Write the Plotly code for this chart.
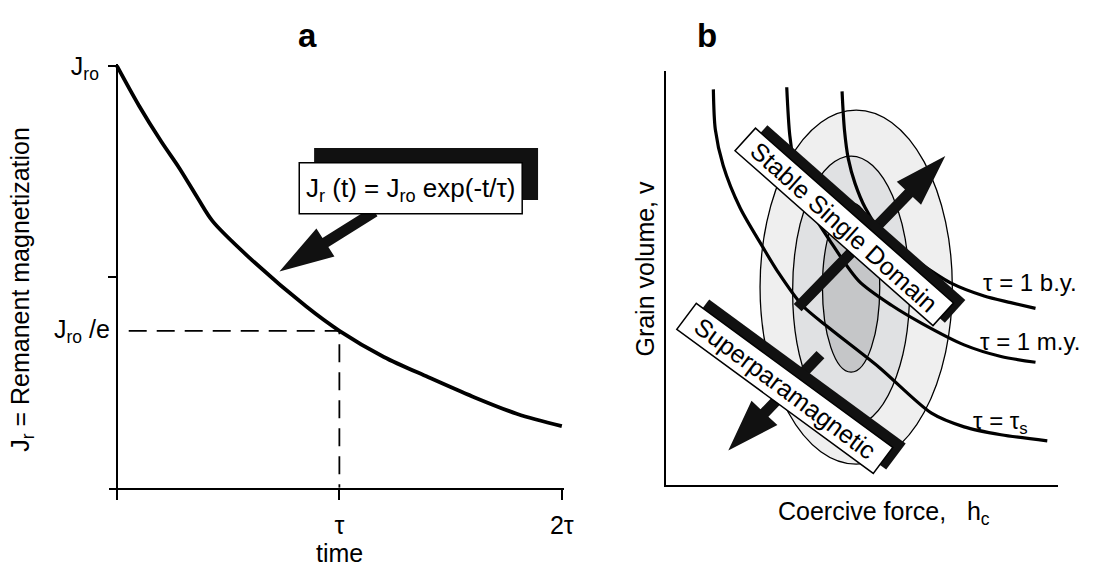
import math
import plotly.graph_objects as go

W, H = 1098, 570
FONT = "Liberation Sans, Arial, Helvetica, sans-serif"

# ---------------- panel a : data (time in units of tau, J in units of Jro)
time_tau = [0, 0.1, 0.2, 0.28, 0.365, 0.43, 0.59, 0.85, 1.0, 1.2, 1.4, 1.6, 1.8, 2.0]
jr_ratio = [1.0, 0.905, 0.82, 0.758, 0.685, 0.632, 0.548, 0.43, 0.372, 0.31, 0.262, 0.216, 0.175, 0.146]
time_ticks = [0, 1, 2]
time_tick_text = ["", "τ", "2τ"]
j_ticks = [1.0, 0.5]
j_tick_text = ["J<sub>ro</sub>", ""]
j_over_e = 0.372
dash_start = 0.053

# ---------------- panel b : relaxation-time curves (coercive force h, grain volume v; arbitrary units 0-10)
ts_h = [1.21, 1.26, 1.46, 1.89, 2.47, 2.85, 3.48, 4.17, 5.43, 6.77, 7.60, 8.54, 9.72]
ts_v = [9.55, 8.58, 7.71, 6.69, 5.74, 5.15, 4.33, 3.78, 2.84, 1.73, 1.40, 1.21, 1.06]
my_h = [3.08, 3.16, 3.31, 3.66, 4.17, 4.92, 5.76, 6.52, 7.60, 8.54, 9.42]
my_v = [9.60, 8.42, 7.57, 6.69, 5.91, 4.92, 4.33, 3.90, 3.38, 3.10, 2.96]
by_h = [4.49, 4.55, 4.65, 4.82, 5.08, 5.58, 6.34, 7.27, 8.11, 8.79, 9.42]
by_v = [9.50, 8.58, 7.87, 7.28, 6.69, 5.98, 5.44, 4.87, 4.56, 4.40, 4.26]
curve_labels = ["τ = 1 b.y.", "τ = 1 m.y.", "τ = τ<sub>s</sub>"]
label_h = [8.03, 7.95, 7.78]
label_v = [4.88, 3.47, 1.50]
# grain distribution ellipses: h0, h1, v0, v1, fill
ell_h0 = [2.40, 3.23, 3.99]
ell_h1 = [7.30, 6.21, 5.45]
ell_v0 = [0.50, 1.42, 2.72]
ell_v1 = [9.05, 7.94, 6.81]
ell_fill = ["#efefef", "#e0e1e3", "#c5c6c8"]


def fx(px):
    return px / W


def fy(py):
    return 1 - py / H


def path_of(pts):
    return "M " + " L ".join(f"{fx(x):.5f},{fy(y):.5f}" for x, y in pts) + " Z"


def arrow_pts(tail, tip, sw, hl, hw):
    dx, dy = tip[0] - tail[0], tip[1] - tail[1]
    L = math.hypot(dx, dy)
    ux, uy = dx / L, dy / L
    nx, ny = -uy, ux
    bx, by = tip[0] - ux * hl, tip[1] - uy * hl
    return [
        (tail[0] + nx * sw / 2, tail[1] + ny * sw / 2),
        (bx + nx * sw / 2, by + ny * sw / 2),
        (bx + nx * hw / 2, by + ny * hw / 2),
        tip,
        (bx - nx * hw / 2, by - ny * hw / 2),
        (bx - nx * sw / 2, by - ny * sw / 2),
        (tail[0] - nx * sw / 2, tail[1] - ny * sw / 2),
    ]


def rect_pts(c, length, width, ang):
    a = math.radians(ang)
    ux, uy = math.cos(a), math.sin(a)
    nx, ny = -uy, ux
    pts = []
    for s, t in [(-1, -1), (1, -1), (1, 1), (-1, 1)]:
        pts.append((c[0] + s * ux * length / 2 + t * nx * width / 2,
                    c[1] + s * uy * length / 2 + t * ny * width / 2))
    return pts


fig = go.Figure()

# panel a
fig.add_trace(go.Scatter(x=time_tau, y=jr_ratio, mode="lines", xaxis="x", yaxis="y",
                         line=dict(color="black", width=3.8, shape="spline", smoothing=0.9),
                         showlegend=False, hoverinfo="skip"))
fig.add_trace(go.Scatter(x=[dash_start, 1, 1], y=[j_over_e, j_over_e, 0], mode="lines",
                         xaxis="x", yaxis="y",
                         line=dict(color="black", width=1.8, dash="18px,10px"),
                         showlegend=False, hoverinfo="skip"))

# panel b curves
for hh, vv in [(ts_h, ts_v), (my_h, my_v), (by_h, by_v)]:
    fig.add_trace(go.Scatter(x=hh, y=vv, mode="lines", xaxis="x2", yaxis="y2",
                             line=dict(color="black", width=3.2, shape="spline", smoothing=0.8),
                             showlegend=False, hoverinfo="skip"))

shapes = []
for h0, h1, v0, v1, fc in zip(ell_h0, ell_h1, ell_v0, ell_v1, ell_fill):
    shapes.append(dict(type="circle", xref="x2", yref="y2", x0=h0, x1=h1, y0=v0, y1=v1,
                       fillcolor=fc, line=dict(color="black", width=1.3), layer="below"))

BLACK = "#111111"


def add_poly(pts, fill, lw=0):
    shapes.append(dict(type="path", xref="paper", yref="paper", path=path_of(pts),
                       fillcolor=fill, line=dict(color="black", width=lw), layer="above"))


# superparamagnetic arrow (behind its box)
add_poly(arrow_pts((828, 350), (735, 448), 11, 53, 36), BLACK)
# stable-single-domain arrow (behind its box)
add_poly(arrow_pts((805, 302), (954, 147), 11, 53, 34), BLACK)
# superparamagnetic box + shadow
sp_c, sp_len, sp_w, sp_ang = (792, 384.5), 247, 33, 36.6
add_poly(rect_pts((sp_c[0] + 13, sp_c[1] - 4), sp_len, sp_w, sp_ang), BLACK)
add_poly(rect_pts(sp_c, sp_len, sp_w, sp_ang), "white", 1.5)
# stable single domain box + shadow
sd_c, sd_len, sd_w, sd_ang = (852, 219.5), 268, 31, 41.8
add_poly(rect_pts((sd_c[0] + 12, sd_c[1] - 3), sd_len, sd_w, sd_ang), BLACK)
add_poly(rect_pts(sd_c, sd_len, sd_w, sd_ang), "white", 1.5)
# equation arrow, shadow, box
add_poly(arrow_pts((378, 204), (282, 265), 11, 55, 34), BLACK)
shapes.append(dict(type="rect", xref="paper", yref="paper", x0=fx(317), x1=fx(543), y0=fy(192), y1=fy(139),
                   fillcolor=BLACK, line=dict(width=0), layer="above"))
shapes.append(dict(type="rect", xref="paper", yref="paper", x0=fx(302), x1=fx(527), y0=fy(206), y1=fy(154),
                   fillcolor="white", line=dict(color="black", width=1.5), layer="above"))

ann = []


def txt(x, y, s, size=25, angle=0, xanchor="center", xref="paper", yref="paper", **kw):
    d = dict(x=x, y=y, xref=xref, yref=yref, text=s, showarrow=False, textangle=angle,
             xanchor=xanchor, yanchor="middle", font=dict(family=FONT, size=size, color="black"))
    d.update(kw)
    ann.append(d)


txt(fx(310), fy(24), "<b>a</b>", size=33)
txt(fx(714), fy(24), "<b>b</b>", size=33)
txt(fx(414.5), fy(181), "J<sub>r</sub> (t) = J<sub>ro</sub> exp(-t/τ)", size=26)
txt(0, j_over_e, "J<sub>ro</sub> /e", xref="x", yref="y", xanchor="right", xshift=-5)
txt(fx(343), fy(553), "time")
txt(fx(22), fy(283), "J<sub>r</sub> = Remanent magnetization", angle=-90)
txt(fx(651), fy(262), "Grain volume, v", angle=-90)
txt(fx(892), fy(512), "Coercive force,\u00a0\u00a0 h<sub>c</sub>")
txt(fx(sd_c[0]), fy(sd_c[1]), "Stable Single Domain", size=25, angle=sd_ang)
txt(fx(sp_c[0]), fy(sp_c[1]), "Superparamagnetic", size=25, angle=sp_ang)
for s, hx, vy in zip(curve_labels, label_h, label_v):
    txt(hx, vy, s, size=24, xanchor="left", xref="x2", yref="y2")

axis_common = dict(showgrid=False, zeroline=False, linecolor="black", linewidth=2,
                   tickcolor="black", tickfont=dict(family=FONT, size=25, color="black"))

ppu_x = 224.5
x0_px = 118 - 0.036 * ppu_x
x1_px = 118 + 2.01 * ppu_x
ppu_y = 431

fig.update_layout(
    width=W, height=H, autosize=False,
    margin=dict(l=0, r=0, t=0, b=0),
    paper_bgcolor="white", plot_bgcolor="white",
    showlegend=False,
    font=dict(family=FONT, color="black"),
    xaxis=dict(domain=[fx(x0_px), fx(x1_px)], range=[-0.036, 2.01], anchor="y",
               showline=True, ticks="outside", ticklen=10, tickwidth=2,
               tickvals=time_ticks, ticktext=time_tick_text, ticklabelstandoff=4, **axis_common),
    yaxis=dict(domain=[fy(486), fy(486 - 1.005 * ppu_y)], range=[0, 1.005], anchor="free",
               position=fx(118), showline=True, ticks="outside", ticklen=8, tickwidth=2,
               tickvals=j_ticks, ticktext=j_tick_text, ticklabelstandoff=4, **axis_common),
    xaxis2=dict(domain=[fx(672), fx(1068)], range=[0, 10], anchor="y2", showline=True,
                showticklabels=False, ticks="", **axis_common),
    yaxis2=dict(domain=[fy(483), fy(60)], range=[0, 10], anchor="x2", showline=True,
                showticklabels=False, ticks="", **axis_common),
    shapes=shapes,
    annotations=ann,
)

fig.write_html("out.html", config={"displayModeBar": False, "staticPlot": True},
               post_script="document.body.style.margin='0';document.body.style.overflow='hidden';")
